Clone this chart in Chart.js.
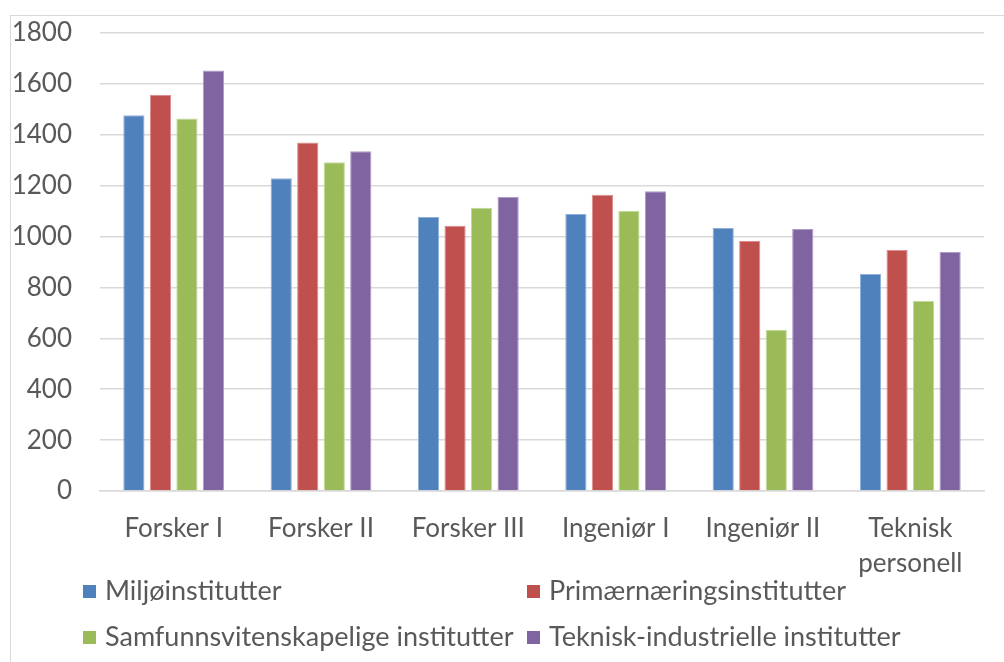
<!DOCTYPE html>
<html>
<head>
<meta charset="utf-8">
<script src="https://cdn.jsdelivr.net/npm/chart.js@4"></script>
<style>
html,body{margin:0;padding:0;background:#fff;}
#wrap{position:relative;width:1004px;height:662px;overflow:hidden;}
#frame{position:absolute;left:10px;top:15px;width:1000px;height:660px;border-left:1px solid #d9d9d9;border-top:1px solid #d9d9d9;box-sizing:border-box;}
canvas{position:absolute;left:0;top:0;}
.lg{position:absolute;font-family:Lato,sans-serif;font-size:27px;color:#595959;white-space:nowrap;line-height:1;}
.lg span.box{display:inline-block;width:13px;height:13px;margin-right:9px;vertical-align:middle;position:relative;top:-2px;}
</style>
</head>
<body>
<div id="wrap">
<div id="frame"></div>
<canvas id="c" width="1004" height="662"></canvas>
<div id="legend"></div>
</div>
<script>
const categories = ["Forsker I", "Forsker II", "Forsker III", "Ingeniør I", "Ingeniør II", ["Teknisk", "personell"]];
const seriesNames = ["Miljøinstitutter", "Primærnæringsinstitutter", "Samfunnsvitenskapelige institutter", "Teknisk-industrielle institutter"];
const miljo = [1477, 1229, 1077, 1089, 1034, 853];
const primaer = [1556, 1370, 1042, 1164, 983, 947];
const samfunn = [1464, 1292, 1113, 1100, 633, 748];
const teknisk = [1653, 1335, 1156, 1178, 1030, 939];
const yTicks = [0, 200, 400, 600, 800, 1000, 1200, 1400, 1600, 1800];

const colors = ["#4F81BD", "#C0504D", "#9BBB59", "#8064A2"];
const borders = ["#8FB0DA", "#DD8E8C", "#C3D99A", "#AE99C8"];
const values = [miljo, primaer, samfunn, teknisk];

const font = {family: "Lato, sans-serif", size: 26, lineHeight: 1.35};
const chart = new Chart(document.getElementById("c"), {
  type: "bar",
  data: {
    labels: categories,
    datasets: seriesNames.map((n, i) => ({
      label: n, data: values[i], backgroundColor: colors[i],
      borderColor: borders[i], borderWidth: 1,
      categoryPercentage: 0.72, barPercentage: 0.8
    }))
  },
  options: {
    responsive: false, animation: false, devicePixelRatio: 1,
    layout: {padding: {left: 0, top: 33, right: 20, bottom: 0}},
    plugins: {legend: {display: false}, tooltip: {enabled: false}},
    scales: {
      x: {
        grid: {display: false, drawTicks: false},
        border: {display: true, color: "#d9d9d9", width: 1.5},
        ticks: {color: "#595959", font: font, padding: 20, maxRotation: 0, autoSkip: false},
        afterFit: s => { s.height = 171; s.paddingLeft = 0; s.paddingRight = 0; }
      },
      y: {
        min: 0, max: 1800,
        afterBuildTicks: s => { s.ticks = yTicks.map(v => ({value: v})); },
        grid: {color: "#d9d9d9", drawTicks: false, lineWidth: 1.5},
        border: {display: false},
        ticks: {color: "#595959", font: {family: "Lato, sans-serif", size: 26}, padding: 28, callback: v => String(v)},
        afterFit: s => { s.width = 100; s.paddingTop = 0; s.paddingBottom = 0; }
      }
    }
  }
});

const pos = [[83, 590], [527, 590], [83, 636], [527, 636]];
const lg = document.getElementById("legend");
seriesNames.forEach((n, i) => {
  const d = document.createElement("div");
  d.className = "lg";
  d.style.left = pos[i][0] + "px";
  d.style.top = (pos[i][1] - 14) + "px";
  d.innerHTML = '<span class="box" style="background:' + colors[i] + '"></span>' + n;
  lg.appendChild(d);
});
</script>
</body>
</html>
